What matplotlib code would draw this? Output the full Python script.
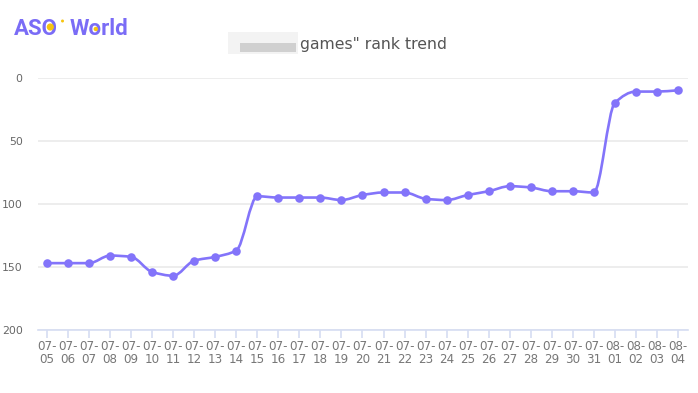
import matplotlib
matplotlib.use("Agg")
import matplotlib.pyplot as plt
from matplotlib.path import Path
from matplotlib.patches import PathPatch, Rectangle, Circle
from matplotlib.transforms import IdentityTransform
import numpy as np

# 数据：每日排名（越小越靠前）
dates = ["07-05", "07-06", "07-07", "07-08", "07-09", "07-10", "07-11", "07-12",
         "07-13", "07-14", "07-15", "07-16", "07-17", "07-18", "07-19", "07-20",
         "07-21", "07-22", "07-23", "07-24", "07-25", "07-26", "07-27", "07-28",
         "07-29", "07-30", "07-31", "08-01", "08-02", "08-03", "08-04"]
ranks = [147, 147, 147, 141, 142, 154, 157, 145, 142, 137, 94, 95, 95, 95, 97, 93,
         91, 91, 96, 97, 93, 90, 86, 87, 90, 90, 91, 20, 11, 11, 10]
y_ticks = [0, 50, 100, 150, 200]

LINE_COLOR = "#8374fa"
LOGO_PURPLE = "#7a6cf6"
LOGO_YELLOW = "#f6c40f"
W, H = 698, 393


def smooth_path(xs, ys):
    """单调三次 Hermite 曲线，转成贝塞尔路径，只经过原始数据点"""
    xs = np.asarray(xs, float)
    ys = np.asarray(ys, float)
    n = len(xs)
    d = np.diff(ys) / np.diff(xs)
    m = np.zeros(n)
    m[0], m[-1] = d[0], d[-1]
    for i in range(1, n - 1):
        if d[i - 1] * d[i] <= 0:
            m[i] = 0
        else:
            m[i] = 2 / (1 / d[i - 1] + 1 / d[i])
    verts = [(xs[0], ys[0])]
    codes = [Path.MOVETO]
    for i in range(n - 1):
        h = xs[i + 1] - xs[i]
        verts += [(xs[i] + h / 3, ys[i] + m[i] * h / 3),
                  (xs[i + 1] - h / 3, ys[i + 1] - m[i + 1] * h / 3),
                  (xs[i + 1], ys[i + 1])]
        codes += [Path.CURVE4] * 3
    return Path(verts, codes)


fig = plt.figure(figsize=(W / 100, H / 100), dpi=100)
ax = fig.add_axes([38 / W, 1 - 330 / H, 650 / W, (330 - 77.7) / H])

x = np.arange(len(dates))
ax.add_patch(PathPatch(smooth_path(x, ranks), facecolor="none",
                       edgecolor=LINE_COLOR, linewidth=1.9, zorder=3))
ax.scatter(x, ranks, s=38, color=LINE_COLOR, zorder=4, linewidths=0)

ax.set_xlim(-0.43, len(dates) - 1 + 0.48)
ax.set_ylim(200, 0)
ax.set_yticks(y_ticks)
ax.set_yticklabels([str(v) for v in y_ticks])
ax.set_xticks(x)
ax.set_xticklabels([d.replace("-", "-\n") for d in dates])

ax.grid(axis="y", color="#ececec", linewidth=1.3)
ax.set_axisbelow(True)
for side in ["top", "right", "left"]:
    ax.spines[side].set_visible(False)
ax.spines["bottom"].set_color("#d5ddf2")
ax.spines["bottom"].set_linewidth(1.2)
ax.tick_params(axis="y", length=0, pad=11, labelsize=7.8, labelcolor="#666666")
ax.tick_params(axis="x", length=6, width=1.2, color="#d5ddf2", pad=1,
               labelsize=8.6, labelcolor="#777777")
for lab in ax.get_xticklabels() + ax.get_yticklabels():
    lab.set_fontfamily("DejaVu Sans")
    lab.set_linespacing(1.05)

# 标题（前半部分原图打了马赛克）
fig.text(300 / W, 1 - 44 / H, 'games" rank trend', fontsize=11.3,
         family="DejaVu Sans", color="#555555", ha="left", va="center")
fig.add_artist(Rectangle((228 / W, 1 - 54 / H), 70 / W, 22 / H,
                         transform=fig.transFigure, facecolor="#f3f3f3", edgecolor="none"))
fig.add_artist(Rectangle((240 / W, 1 - 52 / H), 56 / W, 9 / H,
                         transform=fig.transFigure, facecolor="#d0d0d0", edgecolor="none"))

# 左上角 logo：两段文字 + 黄色圆点
logo_kw = dict(fontsize=16, fontweight="bold", family="Roboto",
               color=LOGO_PURPLE, ha="left", va="baseline")
t_aso = fig.text(14 / W, 1 - 35 / H, "ASO", **logo_kw)
t_world = fig.text(70 / W, 1 - 35 / H, "World", **logo_kw)

fig.canvas.draw()
renderer = fig.canvas.get_renderer()


def text_width(s):
    tmp = fig.text(0, 0, s, **logo_kw)
    w = tmp.get_window_extent(renderer).width
    tmp.remove()
    return w


bb_aso = t_aso.get_window_extent(renderer)
bb_world = t_world.get_window_extent(renderer)
o_center = bb_aso.x1 - text_width("O") / 2
o2_center = bb_world.x0 + (text_width("W") + text_width("Wo")) / 2

for cx, cy_top, r in [(o_center, 27, 3.6),
                      (bb_aso.x1 + 4.5, 21, 1.5),
                      (o2_center, 29, 2.2)]:
    fig.add_artist(Circle((cx, H - cy_top), r, transform=IdentityTransform(),
                          facecolor=LOGO_YELLOW, edgecolor="none", zorder=5))

fig.savefig("out.png", dpi=100)
